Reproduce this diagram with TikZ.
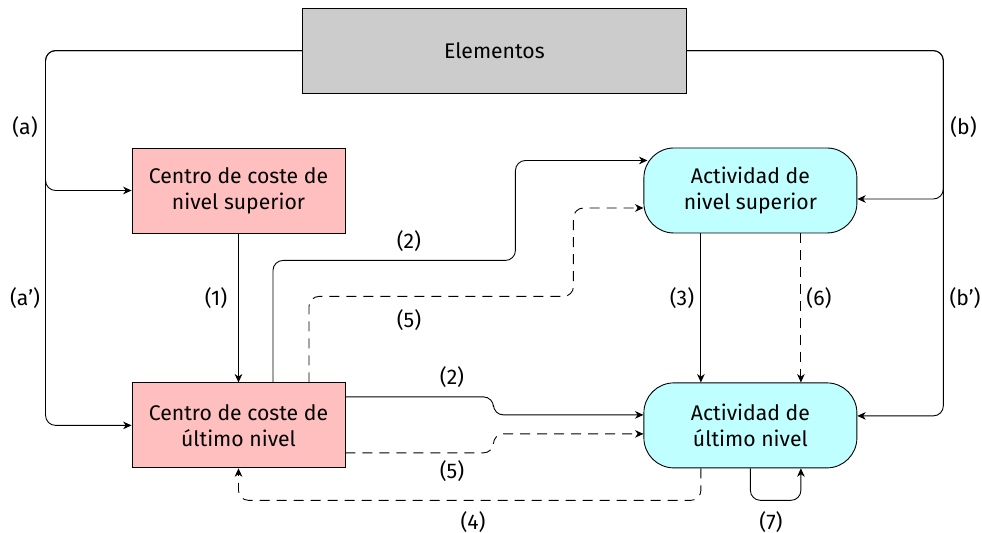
\documentclass[tikz,border=0pt]{standalone}
\usepackage{fontspec}
\setmainfont{Fira Sans}
\usetikzlibrary{positioning,calc,arrows.meta}
\definecolor{centrofill}{RGB}{255,191,191}
\definecolor{actfill}{RGB}{191,255,255}
\definecolor{elemfill}{RGB}{204,204,204}

\begin{document}
\begin{tikzpicture}[centro/.style={rectangle,draw,fill=centrofill,minimum width=106.5pt,minimum height=42.5pt,align=center},
    actividad/.style={rectangle,rounded corners=15pt,draw,fill=actfill,minimum width=106.5pt,minimum height=42.5pt,align=center},
    elem/.style={rectangle,draw,fill=elemfill,minimum width=192pt,minimum height=42.5pt},
    flow/.style={rounded corners=5pt,-{Stealth[length=4.2pt,width=3.8pt,inset=1.3pt]}},
    dashflow/.style={flow,dash pattern=on 5pt off 3.5pt},
    lbl/.style={inner sep=0pt},
    line width=0.45pt,
    font=\fontsize{10.6}{13}\selectfont]
        \useasboundingbox (-119.25pt,95.25pt) rectangle (371.75pt,-171.25pt);

        \node[centro] (sup) {Centro de coste de\\nivel superior};
        \node[centro] (ult) [below=74.5pt of sup] {Centro de coste de\\último nivel};
        \node[actividad] (actsup) [right=149pt of sup] {Actividad de\\nivel superior};
        \node[actividad] (actult) [right=149pt of ult] {Actividad de\\último nivel};
        \coordinate (mid) at ($(sup.north)!0.5!(actsup.north)$);
        \node[elem] (elementos) [above=27pt of mid] {Elementos};

        \draw[flow] (elementos.west) -| ([xshift=-43pt]sup.west) -- (sup.west);
        \draw[flow] (elementos.west) -| ([xshift=-43pt]ult.west) -- (ult.west);
        \draw[flow] (elementos.east) -| ([xshift=43pt,yshift=-4.25pt]actsup.east) -- ([yshift=-4.25pt]actsup.east);
        \draw[flow] (elementos.east) -| ([xshift=43pt,yshift=4.75pt]actult.east) -- ([yshift=4.75pt]actult.east);
        \draw[flow] (sup.south) -- (ult.north);
        \draw[flow] ([xshift=17.25pt]ult.north) -- ++(0,61pt) -| ([xshift=-64pt,yshift=15pt]actsup.west) -- ([xshift=2pt,yshift=15pt]actsup.west);
        \draw[dashflow] ([xshift=35.25pt]ult.north) -- ++(0,43pt) -| ([xshift=-35pt,yshift=-8.75pt]actsup.west) -- ([yshift=-8.75pt]actsup.west);
        \draw[flow] ([xshift=-24.75pt]actsup.south) -- ([xshift=-24.75pt]actult.north);
        \draw[dashflow] ([xshift=25.25pt]actsup.south) -- ([xshift=25.25pt]actult.north);
        \draw[flow] ([yshift=14.25pt]ult.east) -- ++(74pt,0) |- ([yshift=5.25pt]actult.west);
        \draw[dashflow] ([yshift=-13.75pt]ult.east) -- ++(74pt,0) |- ([yshift=-4.25pt]actult.west);
        \draw[dashflow] ([xshift=-24.75pt]actult.south) -- ++(0,-16pt) -| (ult.south);
        \draw[flow] (actult.south) -- ++(0,-16pt) -| ([xshift=25.25pt]actult.south);

        \node[lbl] (la) at (-106.75pt,31.75pt) {(a)};
        \node[lbl] (la2) at (-106.75pt,-53.75pt) {(a’)};
        \node[lbl] (lb) at (362.5pt,31.75pt) {(b)};
        \node[lbl] (lb2) at (363.25pt,-53.75pt) {(b’)};
        \node[lbl] (l1) at (-11.25pt,-53.75pt) {(1)};
        \node[lbl] (l2a) at (85.25pt,-25.25pt) {(2)};
        \node[lbl] (l5a) at (85.25pt,-64.75pt) {(5)};
        \node[lbl] (l3) at (221.75pt,-53.75pt) {(3)};
        \node[lbl] (l6) at (290.25pt,-53.75pt) {(6)};
        \node[lbl] (l2b) at (106.75pt,-93.25pt) {(2)};
        \node[lbl] (l5b) at (106.75pt,-140.25pt) {(5)};
        \node[lbl] (l4) at (117.25pt,-165.75pt) {(4)};
        \node[lbl] (l7) at (266.25pt,-165.75pt) {(7)};
    \end{tikzpicture}
\end{document}
